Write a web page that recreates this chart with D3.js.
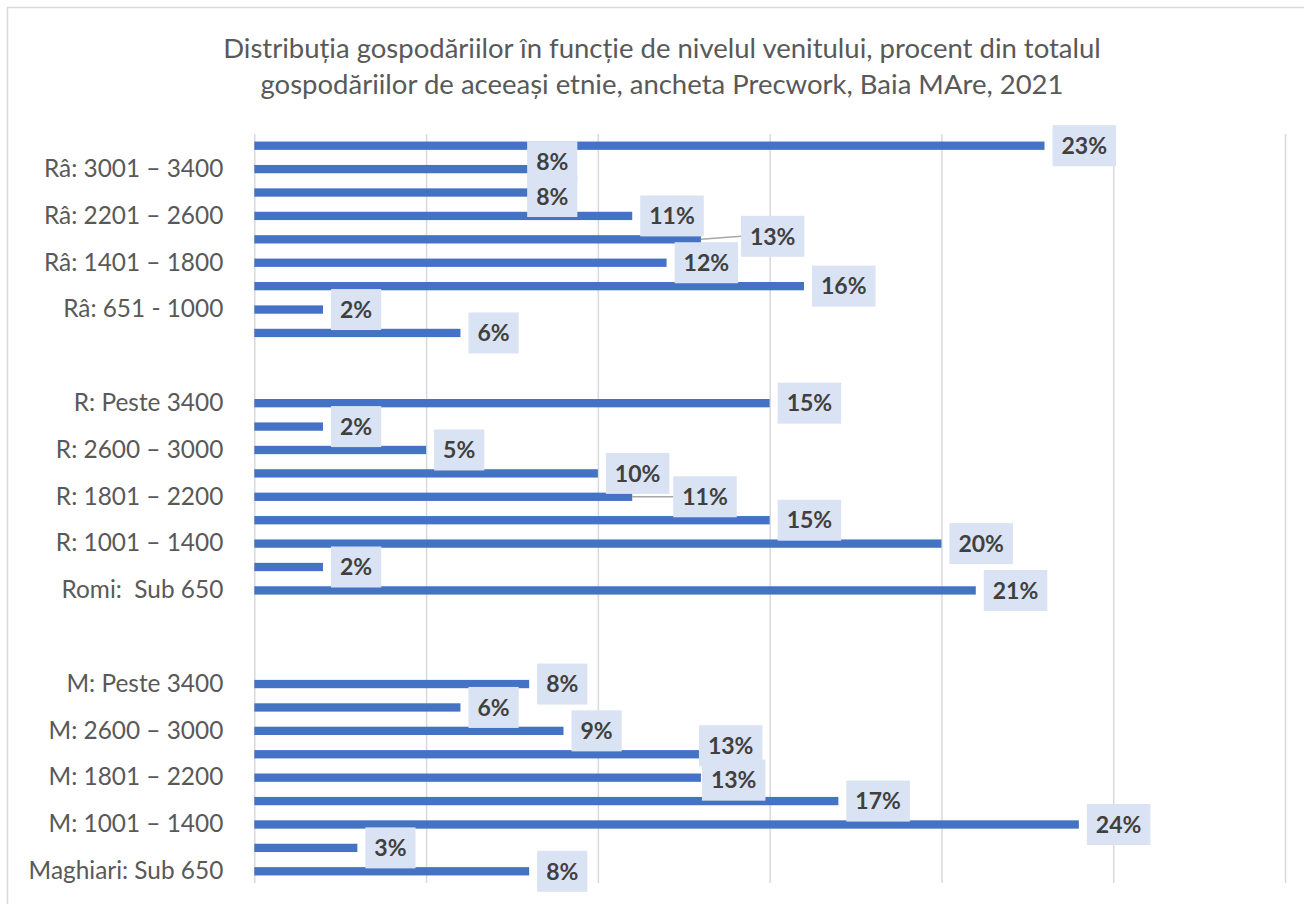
<!DOCTYPE html>
<html>
<head>
<meta charset="utf-8">
<title>Distributia gospodariilor</title>
<script src="https://d3js.org/d3.v7.min.js"></script>
<style>
  body { margin: 0; background: #fff; }
  svg text { font-family: Lato, "Open Sans", sans-serif; }
</style>
</head>
<body>
<div id="chart"></div>
<script>
// Data ==================================================================
var titleLines = [
  "Distribuția gospodăriilor în funcție de nivelul venitului, procent din totalul",
  "gospodăriilor de aceeași etnie, ancheta Precwork, Baia MAre, 2021"
];

// top group (Râ), top to bottom
var catsRa = ["Râ: Peste 3400", "Râ: 3001 – 3400", "Râ: 2600 – 3000", "Râ: 2201 – 2600",
  "Râ: 1801 – 2200", "Râ: 1401 – 1800", "Râ: 1001 – 1400", "Râ: 651 - 1000", "Râ: Sub 650"];
var valsRa = [23, 8, 8, 11, 13, 12, 16, 2, 6];

// Romi
var catsR = ["R: Peste 3400", "R: 3001 – 3400", "R: 2600 – 3000", "R: 2201 – 2600",
  "R: 1801 – 2200", "R: 1401 – 1800", "R: 1001 – 1400", "R: 651 - 1000", "Romi:  Sub 650"];
var valsR = [15, 2, 5, 10, 11, 15, 20, 2, 21];

// Maghiari
var catsM = ["M: Peste 3400", "M: 3001 – 3400", "M: 2600 – 3000", "M: 2201 – 2600",
  "M: 1801 – 2200", "M: 1401 – 1800", "M: 1001 – 1400", "M: 651 - 1000", "Maghiari: Sub 650"];
var valsM = [8, 6, 9, 13, 13, 17, 24, 3, 8];

// empty categories between the groups
var blanksAfterRa = 2;
var blanksAfterR = 3;

var xTicks = [0, 5, 10, 15, 20, 25, 30];

// labels that were dragged by hand in the original: [dx, dy, leader line]
var labelNudge = {
  "Râ: 3001 – 3400": [-10, -7.5, false],
  "Râ: 2600 – 3000": [-10, 4, false],
  "Râ: 1801 – 2200": [32, -3, true],
  "R: 1801 – 2200": [33, 0, true],
  "M: 2201 – 2600": [-10, -8.5, false],
  "M: 1801 – 2200": [-7, 2.5, false]
};

// Build rows ============================================================
var rows = [];
function addGroup(cats, vals) {
  cats.forEach(function(c, i) { rows.push({ key: c, label: c, value: vals[i] }); });
}
function addBlanks(n, tag) {
  for (var i = 0; i < n; i++) { rows.push({ key: tag + i, label: "", value: null }); }
}
addGroup(catsRa, valsRa);
addBlanks(blanksAfterRa, "_gapA");
addGroup(catsR, valsR);
addBlanks(blanksAfterR, "_gapB");
addGroup(catsM, valsM);

// Chart =================================================================
var W = 1304, H = 904;
var plot = { left: 254.3, right: 1285, top: 134, bottom: 883 };

var svg = d3.select("#chart").append("svg")
  .attr("width", W)
  .attr("height", H);

svg.append("rect").attr("width", W).attr("height", H).attr("fill", "#fff");
// chart area border (cropped on the right and bottom)
svg.append("rect")
  .attr("x", 7.5).attr("y", 7.5)
  .attr("width", W + 50).attr("height", H + 50)
  .attr("fill", "#fff")
  .attr("stroke", "#d9d9d9")
  .attr("stroke-width", 1.5);

// title
svg.append("g").selectAll("text")
  .data(titleLines)
  .enter().append("text")
  .attr("x", 662)
  .attr("y", function(d, i) { return 58 + i * 36; })
  .attr("text-anchor", "middle")
  .attr("fill", "#595959")
  .style("font-size", "27.5px")
  .text(function(d) { return d; });

var x = d3.scaleLinear().domain([0, 30]).range([plot.left, plot.right]);
var y = d3.scaleBand()
  .domain(rows.map(function(r) { return r.key; }))
  .range([plot.top, plot.bottom])
  .paddingInner(0.645)
  .paddingOuter(0.3225);

// gridlines
var grid = svg.append("g")
  .attr("transform", "translate(0," + plot.bottom + ")")
  .call(d3.axisBottom(x).tickValues(xTicks).tickSize(-(plot.bottom - plot.top)).tickFormat(""));
grid.select(".domain").remove();
grid.selectAll("line").attr("stroke", "#d9d9d9").attr("stroke-width", 1.5);

// category axis, only every second label is drawn
var n = rows.length;
var labelOf = {};
rows.forEach(function(r, i) { labelOf[r.key] = ((n - 1 - i) % 2 === 0) ? r.label : ""; });

var yAxis = svg.append("g")
  .attr("transform", "translate(" + plot.left + ",0)")
  .call(d3.axisLeft(y).tickSize(0).tickPadding(31).tickFormat(function(k) { return labelOf[k]; }));
yAxis.select(".domain").remove();
yAxis.selectAll("text")
  .attr("fill", "#595959")
  .style("font-size", "24.4px")
  .style("font-family", "Lato, 'Open Sans', sans-serif")
  .style("white-space", "pre");

var data = rows.filter(function(r) { return r.value !== null; });

// bars
svg.append("g").selectAll("rect")
  .data(data)
  .enter().append("rect")
  .attr("x", x(0))
  .attr("y", function(d) { return y(d.key); })
  .attr("width", function(d) { return x(d.value) - x(0); })
  .attr("height", y.bandwidth())
  .attr("fill", "#4472c4");

// data labels
var lab = svg.append("g");
data.forEach(function(d) {
  var nudge = labelNudge[d.key] || [0, 0, false];
  var cy = y(d.key) + y.bandwidth() / 2;
  var bx = x(d.value) + 8 + nudge[0];
  var by = cy + nudge[1];

  var g = lab.append("g");
  var box = g.append("rect").attr("fill", "#dae3f3");
  var t = g.append("text")
    .attr("text-anchor", "middle")
    .attr("dy", "0.36em")
    .attr("fill", "#404040")
    .style("font-size", "23px")
    .style("font-weight", "bold")
    .text(Math.round(d.value) + "%");
  var tw = t.node().getComputedTextLength();
  var bw = tw + 18, bh = 41;
  box.attr("x", bx).attr("y", by - bh / 2).attr("width", bw).attr("height", bh);
  t.attr("x", bx + bw / 2).attr("y", by);

  if (nudge[2]) {
    lab.insert("line", ":first-child")
      .attr("x1", x(d.value)).attr("y1", cy)
      .attr("x2", bx).attr("y2", by)
      .attr("stroke", "#a6a6a6")
      .attr("stroke-width", 1.5);
  }
});
</script>
</body>
</html>
